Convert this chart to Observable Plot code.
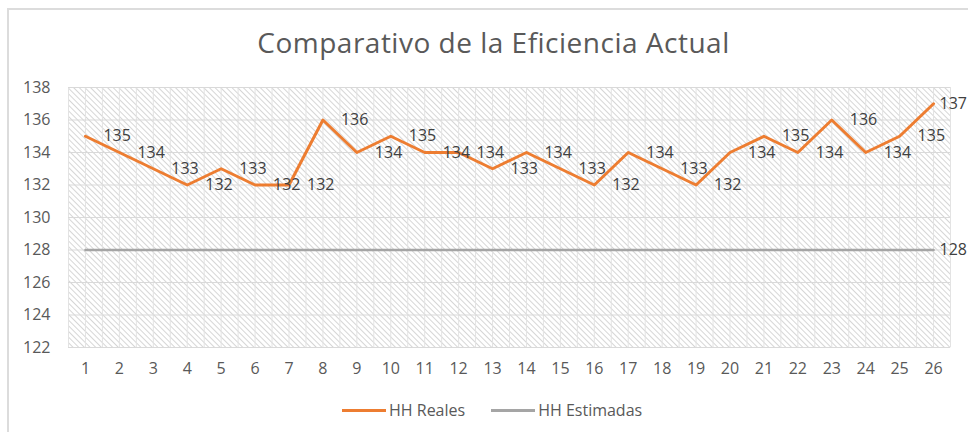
<!DOCTYPE html>
<html>
<head>
<meta charset="utf-8">
<script src="https://cdn.jsdelivr.net/npm/d3@7"></script>
<script src="https://cdn.jsdelivr.net/npm/@observablehq/plot@0.6"></script>
<style>
  body { margin: 0; background: #fff; font-family: "Open Sans", sans-serif; }
  #wrap { position: relative; width: 968px; height: 432px; overflow: hidden; background: #fff; }
  #border { position: absolute; left: 7px; top: 8px; width: 1100px; height: 1100px; border: 2px solid #dcdcdc; box-sizing: border-box; }
  #title { position: absolute; left: 0; top: 28px; width: 987px; text-align: center; font-size: 28px; letter-spacing: 0.5px; line-height: 28px; color: #595959; white-space: nowrap; }
  #chart { position: absolute; left: 0; top: 60px; }
  #legend { position: absolute; left: 342px; top: 400px; height: 20px; display: flex; align-items: center; font-size: 16px; color: #595959; line-height: 20px; }
  .sw { width: 44px; height: 3px; margin-right: 3px; }
  .item { display: flex; align-items: center; margin-right: 26px; }
</style>
</head>
<body>
<div id="wrap">
  <div id="border"></div>
  <div id="title">Comparativo de la Eficiencia Actual</div>
  <div id="chart"></div>
  <div id="legend"></div>
</div>
<script>
// ---- data ----
const categories = [1, 2, 3, 4, 5, 6, 7, 8, 9, 10, 11, 12, 13, 14, 15, 16, 17, 18, 19, 20, 21, 22, 23, 24, 25, 26];
const hhReales = [135, 134, 133, 132, 133, 132, 132, 136, 134, 135, 134, 134, 133, 134, 133, 132, 134, 133, 132, 134, 135, 134, 136, 134, 135, 137];
const hhEstimadas = [128, 128, 128, 128, 128, 128, 128, 128, 128, 128, 128, 128, 128, 128, 128, 128, 128, 128, 128, 128, 128, 128, 128, 128, 128, 128];
const yTicks = [122, 124, 126, 128, 130, 132, 134, 136, 138];
const seriesNames = ["HH Reales", "HH Estimadas"];
const seriesColors = ["#ED7D31", "#A5A5A5"];

const data = categories.map((c, i) => ({ x: c, real: hhReales[i], est: hhEstimadas[i] }));
const last = data.slice(-1);
const gridX = categories.flatMap(c => [c - 0.5, c]).concat([categories[categories.length - 1] + 0.5]);

const plot = Plot.plot({
  width: 968,
  height: 327,
  marginLeft: 68,
  marginRight: 18,
  marginTop: 27,
  marginBottom: 40,
  style: { fontFamily: "Open Sans, sans-serif", fontSize: "16px", color: "#595959", background: "transparent", overflow: "visible" },
  x: { type: "linear", domain: [0.5, 26.5], ticks: categories, tickSize: 0, tickPadding: 15, tickFormat: d => String(d), label: null },
  y: { domain: [122, 138], ticks: yTicks, tickSize: 0, tickPadding: 18, label: null },
  marks: [
    Plot.frame({ fill: "url(#hatch)", stroke: null }),
    Plot.ruleX(gridX, { stroke: "#e3e3e3", strokeWidth: 1 }),
    Plot.ruleY(yTicks, { stroke: "#d9d9d9", strokeWidth: 1 }),
    Plot.line(data, { x: "x", y: "est", stroke: seriesColors[1], strokeWidth: 2.5 }),
    Plot.line(data, { x: "x", y: "real", stroke: seriesColors[0], strokeWidth: 3, strokeLinejoin: "round" }),
    Plot.text(data.slice(0, -1), { x: "x", y: "real", text: d => String(d.real), textAnchor: "start", dx: 18, fill: "#404040", fontSize: 16 }),
    Plot.text(last, { x: "x", y: "real", text: d => String(d.real), textAnchor: "start", dx: 6, fill: "#404040", fontSize: 16 }),
    Plot.text(last, { x: "x", y: "est", text: d => String(d.est), textAnchor: "start", dx: 6, fill: "#404040", fontSize: 16 })
  ]
});

// hatch pattern for plot area
const ns = "http://www.w3.org/2000/svg";
const defs = document.createElementNS(ns, "defs");
const pat = document.createElementNS(ns, "pattern");
pat.setAttribute("id", "hatch");
pat.setAttribute("width", "4");
pat.setAttribute("height", "4");
pat.setAttribute("patternUnits", "userSpaceOnUse");
pat.setAttribute("patternTransform", "rotate(-45)");
const bg = document.createElementNS(ns, "rect");
bg.setAttribute("width", "4"); bg.setAttribute("height", "4"); bg.setAttribute("fill", "#ffffff");
const ln = document.createElementNS(ns, "line");
ln.setAttribute("x1", "0.5"); ln.setAttribute("y1", "0"); ln.setAttribute("x2", "0.5"); ln.setAttribute("y2", "4");
ln.setAttribute("stroke", "#d6d6d6"); ln.setAttribute("stroke-width", "1");
pat.appendChild(bg); pat.appendChild(ln);
defs.appendChild(pat);
plot.insertBefore(defs, plot.firstChild);

document.getElementById("chart").appendChild(plot);

// legend
const legend = document.getElementById("legend");
seriesNames.forEach((name, i) => {
  const item = document.createElement("div");
  item.className = "item";
  const sw = document.createElement("div");
  sw.className = "sw";
  sw.style.background = seriesColors[i];
  const t = document.createElement("span");
  t.textContent = name;
  item.appendChild(sw); item.appendChild(t);
  legend.appendChild(item);
});
</script>
</body>
</html>
